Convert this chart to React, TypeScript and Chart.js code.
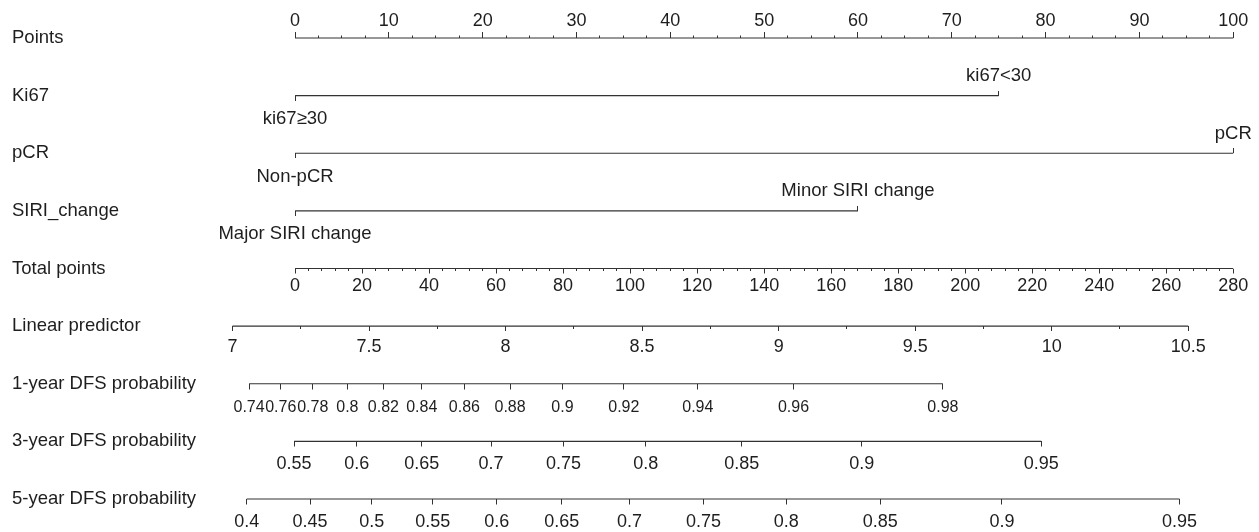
import React, { useEffect, useRef } from "react";
import { Chart, registerables } from "chart.js";

Chart.register(...registerables);

// ---------------- data ----------------
const ROWS = [
  "Points",
  "Ki67",
  "pCR",
  "SIRI_change",
  "Total points",
  "Linear predictor",
  "1-year DFS probability",
  "3-year DFS probability",
  "5-year DFS probability",
];

const POINT_TICKS = [0, 10, 20, 30, 40, 50, 60, 70, 80, 90, 100];
const POINT_LABELS = ["0", "10", "20", "30", "40", "50", "60", "70", "80", "90", "100"];
const POINT_MINOR_STEP = 2.5;

const KI67_LEVELS = ["ki67≥30", "ki67<30"];
const KI67_POINTS = [0, 75];
const PCR_LEVELS = ["Non-pCR", "pCR"];
const PCR_POINTS = [0, 100];
const SIRI_LEVELS = ["Major SIRI change", "Minor SIRI change"];
const SIRI_POINTS = [0, 60];

const TOTAL_TICKS = [0, 20, 40, 60, 80, 100, 120, 140, 160, 180, 200, 220, 240, 260, 280];
const TOTAL_LABELS = ["0", "20", "40", "60", "80", "100", "120", "140", "160", "180", "200", "220", "240", "260", "280"];
const TOTAL_MINOR_STEP = 4;
// total points that line up with 100 on the Points scale
const TOTAL_AT_POINTS_MAX = 280;
const POINTS_MAX = 100;

const LP_TICKS = [7, 7.5, 8, 8.5, 9, 9.5, 10, 10.5];
const LP_LABELS = ["7", "7.5", "8", "8.5", "9", "9.5", "10", "10.5"];
const LP_MINOR_STEP = 0.25;
// linear predictor values and the total points where they sit
const LP_ANCHOR_LP = [7, 10.5];
const LP_ANCHOR_TOTAL = [-18.66, 266.57];

// probability ticks, positioned in total points
const DFS1_LABELS = ["0.74", "0.76", "0.78", "0.8", "0.82", "0.84", "0.86", "0.88", "0.9", "0.92", "0.94", "0.96", "0.98"];
const DFS1_TOTAL = [-13.73, -4.27, 5.28, 15.61, 26.36, 37.82, 50.54, 64.18, 79.79, 98.12, 120.21, 148.75, 193.34];
const DFS3_LABELS = ["0.55", "0.6", "0.65", "0.7", "0.75", "0.8", "0.85", "0.9", "0.95"];
const DFS3_TOTAL = [-0.3, 18.42, 37.82, 58.51, 80.09, 104.69, 133.34, 169.16, 222.69];
const DFS5_LABELS = ["0.4", "0.45", "0.5", "0.55", "0.6", "0.65", "0.7", "0.75", "0.8", "0.85", "0.9", "0.95"];
const DFS5_TOTAL = [-14.42, 4.48, 22.9, 41.1, 60.21, 79.61, 99.79, 121.88, 146.57, 174.63, 210.96, 263.97];

// ---------------- layout / style ----------------
const W = 1259;
const H = 532;
const PAD = { left: 12, right: 7, top: 38, bottom: 33 };
const ROW_LABEL_WIDTH = 208;
const X_RANGE_POINTS = [-8, 102];
const LINE = "#333333";
const TEXT = "#1e1e1e";
const FONT = "'Liberation Sans', Arial, Helvetica, sans-serif";
const TICK_FONT = 18;
const CROWDED_TICK_FONT = 16;
const LABEL_FONT = 18.5;

Chart.defaults.font.family = FONT;
Chart.defaults.color = TEXT;

const toTotal = (p: number) => (p * TOTAL_AT_POINTS_MAX) / POINTS_MAX;
const lpFromTotal = (t: number) =>
  LP_ANCHOR_LP[0] +
  ((t - LP_ANCHOR_TOTAL[0]) * (LP_ANCHOR_LP[1] - LP_ANCHOR_LP[0])) /
    (LP_ANCHOR_TOTAL[1] - LP_ANCHOR_TOTAL[0]);

const RANGE_PTS = X_RANGE_POINTS;
const RANGE_TOT = X_RANGE_POINTS.map(toTotal);
const RANGE_LP = RANGE_TOT.map(lpFromTotal);

function steps(lo: number, hi: number, step: number) {
  const out: number[] = [];
  const n = Math.round((hi - lo) / step);
  for (let i = 0; i <= n; i++) out.push(+(lo + i * step).toFixed(6));
  return out;
}

type Spec = {
  row: number;
  range: number[];
  values: number[];
  labels?: string[];
  tick: number;
  pad?: number;
  size?: number;
};

function axis(s: Spec) {
  return {
    type: "linear",
    axis: "x",
    position: { y: s.row },
    min: s.range[0],
    max: s.range[1],
    border: { display: false },
    grid: {
      display: true,
      drawOnChartArea: false,
      drawTicks: true,
      tickLength: s.tick,
      color: LINE,
      tickColor: LINE,
      tickWidth: 1,
    },
    afterBuildTicks: (scale: any) => {
      scale.ticks = s.values.map((v) => ({ value: v }));
    },
    ticks: {
      display: !!s.labels,
      autoSkip: false,
      maxRotation: 0,
      minRotation: 0,
      padding: s.pad ?? 0,
      color: TEXT,
      font: { size: s.size ?? TICK_FONT, family: FONT },
      callback: (_v: any, i: number) => (s.labels ? s.labels[i] : ""),
    },
  };
}

function seg(xAxisID: string, row: number, from: number, to: number) {
  return {
    type: "line",
    xAxisID,
    yAxisID: "y",
    data: [
      { x: from, y: ROWS[row] },
      { x: to, y: ROWS[row] },
    ],
    borderColor: LINE,
    borderWidth: 1.2,
    pointRadius: 0,
    fill: false,
    clip: false,
  };
}

const last = (a: number[]) => a[a.length - 1];

export default function App() {
  const ref = useRef<HTMLCanvasElement | null>(null);

  useEffect(() => {
    document.body.style.margin = "0";
    const canvas = ref.current;
    if (!canvas) return;

    const scales: any = {
      y: {
        type: "category",
        labels: ROWS,
        position: "left",
        offset: false,
        grid: { display: false },
        border: { display: false },
        ticks: {
          crossAlign: "far",
          autoSkip: false,
          color: TEXT,
          font: { size: LABEL_FONT, family: FONT },
        },
        afterFit: (sc: any) => {
          sc.width = ROW_LABEL_WIDTH;
        },
      },
      xPoints: axis({ row: 0, range: RANGE_PTS, values: POINT_TICKS, labels: POINT_LABELS, tick: -6, pad: -21.3 }),
      xPointsMinor: axis({ row: 0, range: RANGE_PTS, values: steps(POINT_TICKS[0], last(POINT_TICKS), POINT_MINOR_STEP), tick: -2.5 }),
      xKi67Lo: axis({ row: 1, range: RANGE_PTS, values: [KI67_POINTS[0]], labels: [KI67_LEVELS[0]], tick: 5, pad: 7.3, size: LABEL_FONT }),
      xKi67Hi: axis({ row: 1, range: RANGE_PTS, values: [KI67_POINTS[1]], labels: [KI67_LEVELS[1]], tick: -5, pad: -25.9, size: LABEL_FONT }),
      xPcrLo: axis({ row: 2, range: RANGE_PTS, values: [PCR_POINTS[0]], labels: [PCR_LEVELS[0]], tick: 5, pad: 7.3, size: LABEL_FONT }),
      xPcrHi: axis({ row: 2, range: RANGE_PTS, values: [PCR_POINTS[1]], labels: [PCR_LEVELS[1]], tick: -5, pad: -25.9, size: LABEL_FONT }),
      xSiriLo: axis({ row: 3, range: RANGE_PTS, values: [SIRI_POINTS[0]], labels: [SIRI_LEVELS[0]], tick: 5, pad: 7.3, size: LABEL_FONT }),
      xSiriHi: axis({ row: 3, range: RANGE_PTS, values: [SIRI_POINTS[1]], labels: [SIRI_LEVELS[1]], tick: -5, pad: -25.9, size: LABEL_FONT }),
      xTotal: axis({ row: 4, range: RANGE_TOT, values: TOTAL_TICKS, labels: TOTAL_LABELS, tick: 4.5, pad: 2.2 }),
      xTotalMinor: axis({ row: 4, range: RANGE_TOT, values: steps(TOTAL_TICKS[0], last(TOTAL_TICKS), TOTAL_MINOR_STEP), tick: 2 }),
      xLP: axis({ row: 5, range: RANGE_LP, values: LP_TICKS, labels: LP_LABELS, tick: 5, pad: 5.4 }),
      xLPMinor: axis({ row: 5, range: RANGE_LP, values: steps(LP_TICKS[0], last(LP_TICKS), LP_MINOR_STEP), tick: 3 }),
      xDfs1: axis({ row: 6, range: RANGE_TOT, values: DFS1_TOTAL, labels: DFS1_LABELS, tick: 5.5, pad: 8.4, size: CROWDED_TICK_FONT }),
      xDfs3: axis({ row: 7, range: RANGE_TOT, values: DFS3_TOTAL, labels: DFS3_LABELS, tick: 5.5, pad: 6.6 }),
      xDfs5: axis({ row: 8, range: RANGE_TOT, values: DFS5_TOTAL, labels: DFS5_LABELS, tick: 5.5, pad: 7.2 }),
    };

    const datasets: any[] = [
      seg("xPoints", 0, POINT_TICKS[0], last(POINT_TICKS)),
      seg("xPoints", 1, KI67_POINTS[0], last(KI67_POINTS)),
      seg("xPoints", 2, PCR_POINTS[0], last(PCR_POINTS)),
      seg("xPoints", 3, SIRI_POINTS[0], last(SIRI_POINTS)),
      seg("xTotal", 4, TOTAL_TICKS[0], last(TOTAL_TICKS)),
      seg("xLP", 5, LP_TICKS[0], last(LP_TICKS)),
      seg("xDfs1", 6, DFS1_TOTAL[0], last(DFS1_TOTAL)),
      seg("xDfs3", 7, DFS3_TOTAL[0], last(DFS3_TOTAL)),
      seg("xDfs5", 8, DFS5_TOTAL[0], last(DFS5_TOTAL)),
    ];

    const chart = new Chart(canvas, {
      type: "line",
      data: { datasets },
      options: {
        animation: false,
        responsive: false,
        devicePixelRatio: 1,
        events: [],
        layout: { padding: PAD },
        plugins: {
          legend: { display: false },
          tooltip: { enabled: false },
        },
        scales,
      },
    } as any);

    return () => chart.destroy();
  }, []);

  return (
    <div style={{ position: "absolute", left: 0, top: 0, width: W, height: H, background: "#ffffff" }}>
      <canvas ref={ref} width={W} height={H} style={{ display: "block", width: W, height: H }} />
    </div>
  );
}
